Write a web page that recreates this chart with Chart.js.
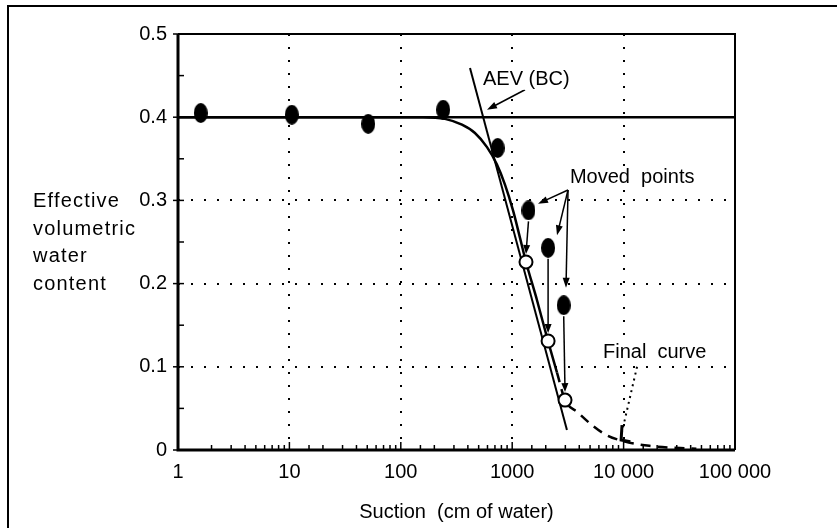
<!DOCTYPE html>
<html>
<head>
<meta charset="utf-8">
<script src="https://cdn.jsdelivr.net/npm/chart.js@4/dist/chart.umd.min.js"></script>
<style>
  html, body { margin: 0; padding: 0; background: #fff; }
  #wrap { width: 837px; height: 528px; position: relative; }
</style>
</head>
<body>
<div id="wrap"><canvas id="swcc" width="837" height="528"></canvas></div>
<script>
// measured points (filled)
const suctionMeasured = [1.6, 10.5, 51, 240, 740, 1400, 2100, 2900];
const thetaMeasured = [0.405, 0.403, 0.392, 0.409, 0.363, 0.288, 0.243, 0.174];

// moved points (open)
const suctionMoved = [1330, 2100, 2980];
const thetaMoved = [0.226, 0.131, 0.060];
const movedFromIndex = [5, 6, 7];

// fitted curve, solid part
const suctionFit = [1, 158, 249, 354, 463, 594, 730, 861, 1017, 1175, 1330, 1670, 2095, 2525];
const thetaFit = [0.400, 0.400, 0.398, 0.391, 0.381, 0.364, 0.343, 0.319, 0.288, 0.255, 0.226, 0.180, 0.131, 0.093];

// final curve, dashed part
const suctionFinal = [2525, 2980, 3900, 5200, 7000, 9700, 17000, 45000];
const thetaFinal = [0.093, 0.060, 0.045, 0.030, 0.018, 0.011, 0.005, 0.0015];

// Brooks-Corey plateau and AEV line
const suctionBC = [1, 100000];
const thetaBC = [0.4, 0.4];
const suctionAEV = [418, 3100];
const thetaAEV = [0.459, 0.024];

// tick labels
const xTickLabels = ['1', '10', '100', '1000', '10 000', '100 000'];
const yTickLabels = ['0', '0.1', '0.2', '0.3', '0.4', '0.5'];
const yTitleLines = ['Effective', 'volumetric', 'water', 'content'];

// annotation texts, anchored in data coords (left edge, middle)
const noteTexts = ['AEV (BC)', 'Moved  points', 'Final  curve'];
const noteX = [547, 3300, 6530];
const noteY = [0.445, 0.328, 0.117];

const FONT = '"Liberation Sans", Arial, sans-serif';

function pts(xs, ys) { return xs.map((x, i) => ({ x: x, y: ys[i] })); }
function isDecade(v) { const l = Math.log10(v); return Math.abs(l - Math.round(l)) < 1e-6; }

function makeEllipse(w, h) {
    const c = document.createElement('canvas');
    c.width = w; c.height = h;
    const g = c.getContext('2d');
    g.fillStyle = '#000';
    g.beginPath();
    g.ellipse(w / 2, h / 2, w / 2, h / 2, 0, 0, Math.PI * 2);
    g.fill();
    return c;
}

function arrow(ctx, x1, y1, x2, y2, head, half) {
    const a = Math.atan2(y2 - y1, x2 - x1);
    ctx.beginPath();
    ctx.moveTo(x1, y1);
    ctx.lineTo(x2 - Math.cos(a) * head * 0.8, y2 - Math.sin(a) * head * 0.8);
    ctx.stroke();
    ctx.beginPath();
    ctx.moveTo(x2, y2);
    ctx.lineTo(x2 - Math.cos(a) * head - Math.sin(a) * half, y2 - Math.sin(a) * head + Math.cos(a) * half);
    ctx.lineTo(x2 - Math.cos(a) * head + Math.sin(a) * half, y2 - Math.sin(a) * head - Math.cos(a) * half);
    ctx.closePath();
    ctx.fill();
}

const extras = {
    id: 'extras',
    afterDatasetsDraw(chart) {
        const ctx = chart.ctx, xs = chart.scales.x, ys = chart.scales.y;
        const px = v => xs.getPixelForValue(v), py = v => ys.getPixelForValue(v);
        ctx.save();
        ctx.strokeStyle = '#000';
        ctx.fillStyle = '#000';
        ctx.lineWidth = 1.5;

        // filled -> open arrows
        movedFromIndex.forEach((k, i) => {
            const x1 = px(suctionMeasured[k]), y1 = py(thetaMeasured[k]) + 11;
            const x2 = px(suctionMoved[i]), y2 = py(thetaMoved[i]) - 8;
            arrow(ctx, x1, y1, x2, y2, 9, 3.5);
        });

        // "Moved points" pointers
        const mx = px(3170), my = py(0.3125);
        [[1705, 0.296], [2525, 0.258], [3040, 0.195]].forEach(t => {
            arrow(ctx, mx, my, px(t[0]), py(t[1]), 10, 3.5);
        });

        // AEV pointer
        arrow(ctx, px(1303), py(0.433), px(594), py(0.409), 10, 3.5);

        // Final curve pointer (dotted)
        ctx.setLineDash([2, 4]);
        ctx.lineWidth = 2;
        ctx.beginPath();
        ctx.moveTo(px(13200), py(0.100));
        ctx.lineTo(px(9680), py(0.022));
        ctx.stroke();
        ctx.setLineDash([]);
        ctx.lineWidth = 3;
        ctx.beginPath();
        ctx.moveTo(px(9680), py(0.030));
        ctx.lineTo(px(9500), py(0.012));
        ctx.lineTo(px(11500), py(0.010));
        ctx.stroke();

        // annotation text
        ctx.font = '20px ' + FONT;
        ctx.textAlign = 'left';
        ctx.textBaseline = 'middle';
        noteTexts.forEach((t, i) => {
            const x = px(noteX[i]), y = py(noteY[i]);
            ctx.fillStyle = '#fff';
            ctx.fillRect(x - 1, y - 10, ctx.measureText(t).width + 2, 20);
            ctx.fillStyle = '#000';
            ctx.fillText(t, x, y);
        });
        ctx.restore();
    },
    afterDraw(chart) {
        const ctx = chart.ctx, xs = chart.scales.x, ys = chart.scales.y;
        const a = chart.chartArea;
        ctx.save();
        ctx.strokeStyle = '#000';
        ctx.fillStyle = '#000';

        // minor / major tick marks
        ctx.lineWidth = 1.5;
        xs.ticks.forEach(t => {
            const x = xs.getPixelForValue(t.value);
            const len = isDecade(t.value) ? 8 : 5;
            ctx.beginPath();
            ctx.moveTo(x, a.bottom);
            ctx.lineTo(x, a.bottom - len);
            ctx.stroke();
        });
        ys.ticks.forEach(t => {
            const y = ys.getPixelForValue(t.value);
            const major = Math.round(t.value * 20) % 2 === 0;
            ctx.beginPath();
            ctx.moveTo(major ? a.left - 5 : a.left, y);
            ctx.lineTo(a.left + 6, y);
            ctx.stroke();
        });

        // plot frame
        ctx.lineWidth = 3;
        ctx.beginPath();
        ctx.moveTo(a.left, a.top);
        ctx.lineTo(a.left, a.bottom);
        ctx.lineTo(a.right, a.bottom);
        ctx.stroke();
        ctx.lineWidth = 2;
        ctx.beginPath();
        ctx.moveTo(a.left, a.top);
        ctx.lineTo(a.right, a.top);
        ctx.lineTo(a.right, a.bottom);
        ctx.stroke();

        // outer figure frame (left and top edges)
        ctx.lineWidth = 2;
        ctx.beginPath();
        ctx.moveTo(8, chart.height + 5);
        ctx.lineTo(8, 6);
        ctx.lineTo(chart.width + 5, 6);
        ctx.stroke();

        // y title, horizontal, between the 0.3 and 0.2 ticks
        const yTop = ys.getPixelForValue(0.3), yBot = ys.getPixelForValue(0.2);
        const step = (yBot - yTop) / (yTitleLines.length - 1);
        ctx.font = '20px ' + FONT;
        ctx.letterSpacing = '1.2px';
        ctx.textAlign = 'left';
        ctx.textBaseline = 'middle';
        yTitleLines.forEach((t, i) => ctx.fillText(t, 33, yTop + i * step + 1));
        ctx.letterSpacing = '0px';
        ctx.restore();
    }
};

const gridDash = { display: false, dash: [2, 11] };

new Chart(document.getElementById('swcc'), {
    type: 'scatter',
    data: {
        datasets: [
            {
                label: 'Measured',
                data: pts(suctionMeasured, thetaMeasured),
                pointStyle: makeEllipse(14, 20),
                pointRadius: 8,
                showLine: false
            },
            {
                label: 'Moved',
                data: pts(suctionMoved, thetaMoved),
                pointStyle: 'circle',
                pointRadius: 6.5,
                pointBorderWidth: 2,
                pointBorderColor: '#000',
                pointBackgroundColor: '#fff',
                showLine: false
            },
            {
                label: 'Fit',
                data: pts(suctionFit, thetaFit),
                showLine: true,
                borderColor: '#000',
                borderWidth: 2.5,
                pointRadius: 0,
                cubicInterpolationMode: 'monotone'
            },
            {
                label: 'Final curve',
                data: pts(suctionFinal, thetaFinal),
                showLine: true,
                borderColor: '#000',
                borderWidth: 2.5,
                borderDash: [10, 7],
                pointRadius: 0,
                cubicInterpolationMode: 'monotone'
            },
            {
                label: 'AEV (BC)',
                data: pts(suctionAEV, thetaAEV),
                showLine: true,
                borderColor: '#000',
                borderWidth: 2,
                pointRadius: 0
            },
            {
                label: 'BC plateau',
                data: pts(suctionBC, thetaBC),
                showLine: true,
                borderColor: '#000',
                borderWidth: 2.5,
                pointRadius: 0
            }
        ]
    },
    options: {
        responsive: false,
        animation: false,
        events: [],
        layout: { padding: { top: 34, right: 102, left: 0, bottom: 0 } },
        plugins: { legend: { display: false }, tooltip: { enabled: false } },
        scales: {
            x: {
                type: 'logarithmic',
                min: 1,
                max: 100000,
                afterFit: s => { s.height = 78; },
                border: gridDash,
                grid: {
                    drawTicks: false,
                    lineWidth: 2,
                    color: c => (c.tick && isDecade(c.tick.value) && c.tick.value > 1 && c.tick.value < 100000) ? '#000' : 'rgba(0,0,0,0)'
                },
                ticks: {
                    autoSkip: false,
                    maxRotation: 0,
                    padding: 10,
                    color: '#000',
                    font: { family: FONT, size: 20 },
                    callback: v => isDecade(v) ? xTickLabels[Math.round(Math.log10(v))] : ''
                },
                title: {
                    display: true,
                    text: 'Suction  (cm of water)',
                    color: '#000',
                    font: { family: FONT, size: 20 },
                    padding: { top: 0, bottom: 4 }
                }
            },
            y: {
                min: 0,
                max: 0.5,
                afterFit: s => { s.width = 178; },
                border: gridDash,
                grid: {
                    drawTicks: false,
                    lineWidth: 2,
                    color: c => {
                        if (!c.tick) return 'rgba(0,0,0,0)';
                        const k = Math.round(c.tick.value * 20);
                        return (k % 2 === 0 && k > 0 && k < 10) ? '#000' : 'rgba(0,0,0,0)';
                    }
                },
                ticks: {
                    stepSize: 0.05,
                    autoSkip: false,
                    padding: 11,
                    color: '#000',
                    font: { family: FONT, size: 20 },
                    callback: v => {
                        const k = Math.round(v * 20);
                        return k % 2 === 0 ? yTickLabels[k / 2] : '';
                    }
                }
            }
        }
    },
    plugins: [extras]
});
</script>
</body>
</html>
